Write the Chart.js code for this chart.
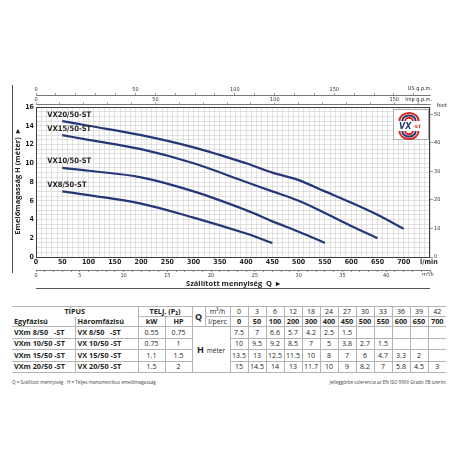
<!DOCTYPE html>
<html>
<head>
<meta charset="utf-8">
<script src="https://cdn.jsdelivr.net/npm/chart.js@4.4.1/dist/chart.umd.min.js"></script>
<style>
  body { margin: 0; background: #fff; width: 456px; height: 456px; overflow: hidden; position: relative; font-family: "Open Sans", sans-serif; color: #231f20; }
  #chart { position: absolute; left: 0; top: 0; }
  #tbl { position: absolute; left: 12px; top: 306px; width: 434px; border-collapse: collapse; table-layout: fixed; }
  #tbl td { border: 1px solid #b4b4b4; padding: 0; text-align: center; font-size: 7px; line-height: 9px; white-space: pre; overflow: hidden; }
  #tbl tr.hd td { height: 9px; }
  #tbl tr.dt td { height: 10.5px; }
  #tbl td:first-child { border-left-style: hidden; }
  #tbl td:last-child { border-right-style: hidden; }
  #tbl td.b { font-weight: bold; font-size: 7.3px; }
  #tbl td.l { text-align: left; padding-left: 2px; }
  #tbl td.nb { border-bottom-style: hidden; }
  #tbl td.q { font-weight: bold; font-size: 9px; }
  #tbl td.hm { font-size: 6.5px; }
  #tbl td.hm b { font-size: 9px; margin-right: 3px; }
  .note { position: absolute; top: 379px; font-size: 4.6px; color: #444; white-space: nowrap; }
</style>
</head>
<body>
<canvas id="chart" width="456" height="295"></canvas>
<table id="tbl"></table>
<div class="note" style="left:12px">Q = Szállított mennyiség&nbsp;&nbsp; H = Teljes manometrikus emelőmagasság</div>
<div class="note" style="right:10px">Jelleggörbe tolerencia az EN ISO 9906 Grado 3B szerint</div>
<script>
var flowM3h = [0, 3, 6, 12, 18, 24, 27, 30, 33, 36, 39, 42];
var flowLmin = [0, 50, 100, 200, 300, 400, 450, 500, 550, 600, 650, 700];
var curveNames = ['VX8/50-ST', 'VX10/50-ST', 'VX15/50-ST', 'VX20/50-ST'];
var modelsSingle = ['VXm 8/50   -ST', 'VXm 10/50 -ST', 'VXm 15/50 -ST', 'VXm 20/50 -ST'];
var modelsThree = ['VX 8/50   -ST', 'VX 10/50 -ST', 'VX 15/50 -ST', 'VX 20/50 -ST'];
var powerKw = ['0.55', '0.75', '1.1', '1.5'];
var powerHp = ['0.75', '1', '1.5', '2'];
var headVX8 = [7.5, 7, 6.6, 5.7, 4.2, 2.5, 1.5];
var headVX10 = [10, 9.5, 9.2, 8.5, 7, 5, 3.8, 2.7, 1.5];
var headVX15 = [13.5, 13, 12.5, 11.5, 10, 8, 7, 6, 4.7, 3.3, 2];
var headVX20 = [15, 14.5, 14, 13, 11.7, 10, 9, 8.2, 7, 5.8, 4.5, 3];
var heads = [headVX8, headVX10, headVX15, headVX20];

// etiquettes des axes
var xTickLabels = [0, 50, 100, 150, 200, 250, 300, 350, 400, 450, 500, 550, 600, 650, 700];
var yTickLabels = [0, 2, 4, 6, 8, 10, 12, 14, 16];
var m3hLabels = [0, 5, 10, 15, 20, 25, 30, 35, 40];
var usLabels = [0, 50, 100, 150];
var impLabels = [0, 50, 100, 150];
var feetLabels = [0, 10, 20, 30, 40, 50];

var X_MAX = 750, Y_MAX = 16;
var narrow = '"Liberation Sans Narrow", "DejaVu Sans Condensed", sans-serif';
var curveColor = '#263777';

function fixSize(size) {
  return function(scale) {
    if (scale.isHorizontal()) scale.height = size; else scale.width = size;
    scale.paddingLeft = 0; scale.paddingRight = 0; scale.paddingTop = 0; scale.paddingBottom = 0;
  };
}
function stepTicks(step) {
  return function(scale) {
    var t = [];
    for (var v = scale.min; v <= scale.max + 1e-9; v += step) t.push({ value: Math.round(v * 1000) / 1000 });
    scale.ticks = t;
  };
}
function labelIf(list) {
  return function(v) { return list.indexOf(v) >= 0 ? String(v) : ''; };
}

var datasets = heads.map(function(h, i) {
  var pts = [];
  for (var j = 1; j < h.length; j++) pts.push({ x: flowLmin[j], y: h[j] });
  return {
    label: curveNames[i], data: pts, borderColor: curveColor, borderWidth: 2.2,
    pointRadius: 0, tension: 0.35, fill: false
  };
});

var decor = {
  id: 'decor',
  afterDraw: function(chart) {
    var ctx = chart.ctx, a = chart.chartArea;
    var xs = chart.scales.x, ys = chart.scales.y;
    ctx.save();
    // cadre
    ctx.strokeStyle = '#3c3c3c'; ctx.lineWidth = 1;
    ctx.strokeRect(a.left + 0.5, a.top + 0.5, a.right - a.left - 1, a.bottom - a.top);
    // filets
    ctx.strokeStyle = '#555'; ctx.lineWidth = 1;
    ctx.beginPath(); ctx.moveTo(12.5, 85); ctx.lineTo(12.5, 273); ctx.stroke();
    ctx.beginPath(); ctx.moveTo(a.left, 288.5); ctx.lineTo(a.right, 288.5); ctx.stroke();
    // unites
    ctx.fillStyle = '#231f20';
    ctx.font = '5.5px ' + narrow; ctx.textAlign = 'right'; ctx.textBaseline = 'middle';
    ctx.fillText('US g.p.m.', a.right + 2, 89);
    ctx.fillText('Imp g.p.m.', a.right + 2, 100);
    ctx.textAlign = 'left';
    ctx.fillText('feet', a.right + 7, a.top - 1);
    ctx.fillText('m³/h', a.right - 8, 275);
    ctx.font = 'bold 7px ' + narrow;
    ctx.fillText('l/min', a.right - 10, 262);
    // noms des courbes
    ctx.font = 'bold 7.5px ' + narrow; ctx.textAlign = 'left'; ctx.textBaseline = 'middle';
    heads.forEach(function(h, i) {
      var px = xs.getPixelForValue(flowLmin[1]) - 15;
      var py = ys.getPixelForValue(h[1]) - 6.5;
      ctx.fillText(curveNames[i], px, py);
    });
    // logo
    var lx = a.right - 37, ly = a.top + 2, w = 36, hgt = 31;
    ctx.fillStyle = '#fff'; ctx.fillRect(lx, ly, w, hgt);
    ctx.strokeStyle = '#9a9a9a'; ctx.lineWidth = 0.8; ctx.strokeRect(lx + 0.5, ly + 0.5, w - 1, hgt - 1);
    var cx = lx + 16, colors = ['#d9261c', '#263777', '#d9261c'], radii = [8, 5.6, 3.2];
    ctx.lineWidth = 2;
    radii.forEach(function(r, k) {
      ctx.strokeStyle = colors[k];
      ctx.beginPath(); ctx.ellipse(cx, ly + 12, r * 1.2, r, 0, Math.PI, 2 * Math.PI); ctx.stroke();
      ctx.strokeStyle = colors[2 - k];
      ctx.beginPath(); ctx.ellipse(cx, ly + 22, r * 1.2, r, 0, 0, Math.PI); ctx.stroke();
    });
    ctx.fillStyle = '#fff'; ctx.fillRect(lx + 4, ly + 14, 28, 6);
    ctx.fillStyle = '#263777'; ctx.font = 'italic bold 8px "DejaVu Sans", sans-serif'; ctx.textAlign = 'left';
    ctx.fillText('VX', lx + 6, ly + 17.5);
    ctx.fillStyle = '#d9261c'; ctx.font = 'bold 4.5px "DejaVu Sans", sans-serif';
    ctx.fillText('-ST', lx + 20, ly + 17.5);
    ctx.restore();
  }
};

var gridCol = '#cfcfcf';
new Chart(document.getElementById('chart'), {
  type: 'line',
  data: { datasets: datasets },
  options: {
    responsive: false, animation: false, parsing: true,
    layout: { padding: { left: 12, top: 85, right: 0, bottom: 7 } },
    plugins: { legend: { display: false }, tooltip: { enabled: false } },
    scales: {
      x: {
        type: 'linear', position: 'bottom', min: 0, max: X_MAX, weight: 0,
        afterBuildTicks: stepTicks(10), afterFit: fixSize(13),
        grid: { color: gridCol, lineWidth: 0.6, drawTicks: false },
        border: { display: false },
        ticks: { autoSkip: false, minRotation: 0, maxRotation: 0, padding: 1, color: '#231f20',
          font: { family: narrow, size: 7, weight: 'bold' }, callback: labelIf(xTickLabels) }
      },
      xm3: {
        type: 'linear', position: 'bottom', min: 0, max: X_MAX * 60 / 1000, weight: 1,
        afterBuildTicks: stepTicks(1), afterFit: fixSize(18),
        grid: { drawOnChartArea: false, tickLength: 2, color: '#555', lineWidth: 0.6 },
        border: { display: true, color: '#555', width: 0.8 },
        ticks: { autoSkip: false, minRotation: 0, maxRotation: 0, padding: 0, color: '#333',
          font: { family: narrow, size: 5.5 }, callback: labelIf(m3hLabels) },
        title: { display: true, text: 'Szállított mennyiség  Q  ▸', color: '#231f20', padding: 0,
          font: { family: '"Open Sans", sans-serif', size: 7.5, weight: 'bold' } }
      },
      xsp: {
        type: 'linear', position: 'top', min: 0, max: 1, weight: 0, afterFit: fixSize(3),
        grid: { display: false }, border: { display: false }, ticks: { display: false }
      },
      ximp: {
        type: 'linear', position: 'top', min: 0, max: X_MAX / 4.546, weight: 1,
        afterBuildTicks: stepTicks(10), afterFit: fixSize(9),
        grid: { drawOnChartArea: false, tickLength: 1.5, color: '#555', lineWidth: 0.6 },
        border: { display: true, color: '#555', width: 0.8 },
        ticks: { autoSkip: false, minRotation: 0, maxRotation: 0, padding: 0, color: '#333',
          font: { family: narrow, size: 5.5 }, callback: labelIf(impLabels) }
      },
      xus: {
        type: 'linear', position: 'top', min: 0, max: X_MAX / 3.785, weight: 2,
        afterBuildTicks: stepTicks(10), afterFit: fixSize(10),
        grid: { drawOnChartArea: false, tickLength: 2, color: '#555', lineWidth: 0.6 },
        border: { display: true, color: '#555', width: 0.8 },
        ticks: { autoSkip: false, minRotation: 0, maxRotation: 0, padding: 0, color: '#333',
          font: { family: narrow, size: 5.5 }, callback: labelIf(usLabels) }
      },
      y: {
        type: 'linear', position: 'left', min: 0, max: Y_MAX,
        afterBuildTicks: stepTicks(0.5), afterFit: fixSize(24),
        grid: { color: gridCol, lineWidth: 0.6, drawTicks: false },
        border: { display: false },
        ticks: { autoSkip: false, padding: 2, color: '#231f20',
          font: { family: narrow, size: 7, weight: 'bold' }, callback: labelIf(yTickLabels) },
        title: { display: true, text: 'Emelőmagasság H (méter)  ▸', color: '#231f20', padding: { top: 1, bottom: 0 },
          font: { family: '"Open Sans", sans-serif', size: 7.5, weight: 'bold' } }
      },
      yft: {
        type: 'linear', position: 'right', min: 0, max: Y_MAX / 0.3048,
        afterBuildTicks: stepTicks(10), afterFit: fixSize(26),
        grid: { drawOnChartArea: false, tickLength: 3, color: '#555', lineWidth: 0.6 },
        border: { display: false },
        ticks: { autoSkip: false, padding: 1, color: '#333',
          font: { family: narrow, size: 5.5 }, callback: labelIf(feetLabels) }
      }
    }
  },
  plugins: [decor]
});

// tableau
var html = '<colgroup><col style="width:63px"><col style="width:63px"><col style="width:27px"><col style="width:27px"><col style="width:13px"><col style="width:25px">';
for (var c = 0; c < flowLmin.length; c++) html += '<col style="width:18px">';
html += '</colgroup>';
html += '<tr class="hd"><td colspan="2" class="b nb">TÍPUS</td><td colspan="2" class="b">TELJ. (P₂)</td><td rowspan="2" class="q">Q</td><td>m³/h</td>' +
  flowM3h.map(function(v) { return '<td>' + v + '</td>'; }).join('') + '</tr>';
html += '<tr class="hd"><td class="b l">Egyfázisú</td><td class="b l">Háromfázisú</td><td class="b">kW</td><td class="b">HP</td><td>l/perc</td>' +
  flowLmin.map(function(v) { return '<td class="b">' + v + '</td>'; }).join('') + '</tr>';
for (var i = 0; i < heads.length; i++) {
  var row = '<tr class="dt"><td class="b l">' + modelsSingle[i] + '</td><td class="b l">' + modelsThree[i] + '</td><td>' + powerKw[i] + '</td><td>' + powerHp[i] + '</td>';
  if (i === 0) row += '<td colspan="2" rowspan="4" class="hm"><b>H</b>méter</td>';
  for (var j = 0; j < flowLmin.length; j++) row += '<td>' + (heads[i][j] !== undefined ? heads[i][j] : '') + '</td>';
  html += row + '</tr>';
}
document.getElementById('tbl').innerHTML = html;
</script>
</body>
</html>
